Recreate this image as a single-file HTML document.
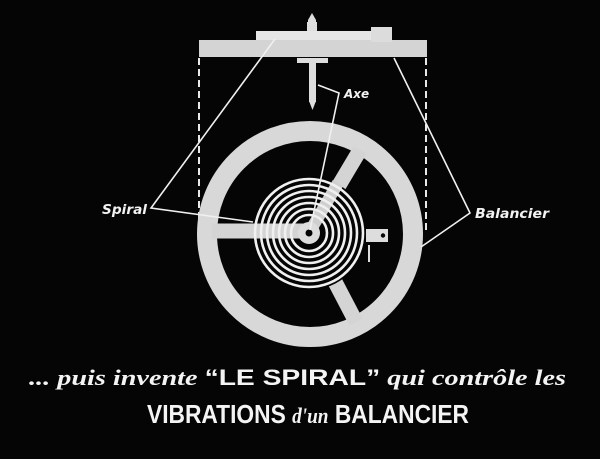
<!DOCTYPE html>
<html><head><meta charset="utf-8"><style>
html,body{margin:0;padding:0;background:#050505;}
svg{display:block;}
</style></head><body>
<svg width="600" height="459" viewBox="0 0 600 459" xmlns="http://www.w3.org/2000/svg">
<rect width="600" height="459" fill="#050505"/>
<g stroke="#e8e8e8" stroke-width="2" stroke-dasharray="7,4">
<line x1="199" y1="58" x2="199" y2="232"/>
<line x1="426" y1="58" x2="426" y2="232"/>
</g>
<polygon points="312,13 316,20 316,28 308,28 308,20" fill="#ddd"/>
<rect x="307" y="22" width="10" height="10" fill="#ddd"/>
<rect x="309" y="60" width="7" height="42" fill="#ddd"/>
<polygon points="309,101 316,101 312.5,110" fill="#ddd"/>
<rect x="199" y="40" width="228" height="17" fill="#d4d4d4"/>
<rect x="256" y="31" width="115" height="9" fill="#e6e6e6"/>
<rect x="371" y="27" width="21" height="15" fill="#dcdcdc"/>
<rect x="297" y="58" width="31" height="5" fill="#ddd"/>
<circle cx="310" cy="234" r="103" fill="none" stroke="#d8d8d8" stroke-width="20"/>
<line x1="212" y1="231" x2="310" y2="231" stroke="#d4d4d4" stroke-width="15"/>
<line x1="310" y1="234" x2="360" y2="150" stroke="#d4d4d4" stroke-width="15"/>
<line x1="310" y1="234" x2="356" y2="322" stroke="#d4d4d4" stroke-width="15"/>
<circle cx="309" cy="233" r="57" fill="#050505"/>
<line x1="252" y1="231" x2="309" y2="231" stroke="#d4d4d4" stroke-width="15"/>
<line x1="309" y1="233" x2="338" y2="183" stroke="#cfcfcf" stroke-width="12"/>
<g fill="none" stroke="#f0f0f0" stroke-width="2.6">
<circle cx="309" cy="233" r="54"/>
<circle cx="309" cy="233" r="48"/>
<circle cx="309" cy="233" r="42"/>
<circle cx="309" cy="233" r="36"/>
<circle cx="309" cy="233" r="30"/>
<circle cx="309" cy="233" r="24"/>
<circle cx="309" cy="233" r="18"/>
</g>
<circle cx="309" cy="233" r="11" fill="#ddd"/>
<circle cx="309" cy="233" r="3.5" fill="#050505"/>
<rect x="366" y="229" width="22" height="13" fill="#ddd"/>
<circle cx="383" cy="235.5" r="2.2" fill="#050505"/>
<line x1="369" y1="245" x2="369" y2="262" stroke="#ddd" stroke-width="2"/>
<g stroke="#f0f0f0" stroke-width="1.6" fill="none">
<polyline points="275,39 151,208 253,222"/>
<polyline points="394,58 470,213 421,247"/>
<polyline points="318,85 339,93 310,230"/>
</g>
<g fill="#f2f2f2" font-family="'DejaVu Sans','Liberation Sans',sans-serif" font-style="italic" font-weight="bold">
<text x="344" y="98" font-size="12">Axe</text>
<text x="102" y="214" font-size="13" textLength="45" lengthAdjust="spacingAndGlyphs">Spiral</text>
<text x="475" y="218" font-size="13" textLength="74" lengthAdjust="spacingAndGlyphs">Balancier</text>
</g>
<text x="29" y="385" fill="#f4f4f4" font-size="22" textLength="537" lengthAdjust="spacingAndGlyphs" font-family="'Liberation Serif',serif" font-weight="bold"><tspan font-style="italic">... puis invente </tspan><tspan font-family="'Liberation Sans',sans-serif" font-style="normal">“LE SPIRAL”</tspan><tspan font-style="italic"> qui contrôle les</tspan></text>
<text x="147" y="423" fill="#f4f4f4" font-size="26" textLength="322" lengthAdjust="spacingAndGlyphs" font-family="'Liberation Sans',sans-serif" font-weight="bold">VIBRATIONS <tspan font-family="'Liberation Serif',serif" font-style="italic" font-size="22">d'un</tspan> BALANCIER</text>
</svg>
</body></html>
